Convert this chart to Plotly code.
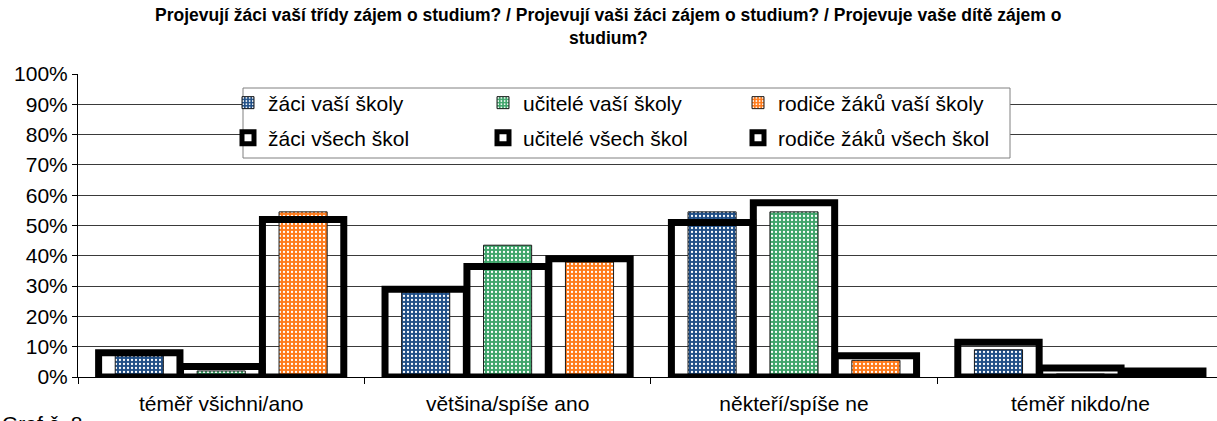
import plotly.graph_objects as go

categories = ["téměř všichni/ano", "většina/spíše ano", "někteří/spíše ne", "téměř nikdo/ne"]
ticks_y = [0, 10, 20, 30, 40, 50, 60, 70, 80, 90, 100]

zaci_vasi = [7, 28, 54.5, 9]
ucitele_vasi = [2, 43.5, 54.5, 1]
rodice_vasi = [54.5, 38, 5.5, 0]
zaci_vsech = [8, 29, 51, 11.5]
ucitele_vsech = [3.5, 36.5, 57.5, 3]
rodice_vsech = [52, 39, 7, 2]

names_vasi = ["žáci vaší školy", "učitelé vaší školy", "rodiče žáků vaší školy"]
names_vsech = ["žáci všech škol", "učitelé všech škol", "rodiče žáků všech škol"]
colors = ["#1F4E86", "#3EA46A", "#FF7A1A"]

FONT = "Liberation Sans, Arial, sans-serif"
W, H = 1217, 421
L, R, T, B = 78, 0, 74, 44
pw, ph = W - L - R, H - T - B

def px_x(x):
    return (x - L) / pw

def px_y(y):
    return (H - B - y) / ph

spacing = 0.286
wide = 0.284
narrow = 0.168

fig = go.Figure()
for k, (vals, name, col) in enumerate(zip([zaci_vasi, ucitele_vasi, rodice_vasi], names_vasi, colors)):
    c = (k - 1) * spacing
    fig.add_trace(go.Bar(
        x=categories, y=vals, name=name, width=narrow, offset=c - narrow / 2,
        marker=dict(color=col, line=dict(color="#1a1a1a", width=1),
                    pattern=dict(shape=".", fgcolor="white", bgcolor=col, size=4, solidity=0.25, fillmode="replace")),
        legend="legend", hoverinfo="skip"))
for k, (vals, name) in enumerate(zip([zaci_vsech, ucitele_vsech, rodice_vsech], names_vsech)):
    c = (k - 1) * spacing
    fig.add_trace(go.Bar(
        x=categories, y=vals, name=name, width=wide, offset=c - wide / 2,
        marker=dict(color="rgba(0,0,0,0)", line=dict(color="black", width=7)),
        legend="legend2", hoverinfo="skip"))

# legend frame
fig.add_shape(type="rect", xref="paper", yref="paper",
              x0=px_x(243), x1=px_x(1010), y0=px_y(158), y1=px_y(88),
              fillcolor="white", line=dict(color="#808080", width=1), layer="above")

legend_common = dict(orientation="h", entrywidth=210, entrywidthmode="pixels",
                     font=dict(family=FONT, size=21, color="black"),
                     bgcolor="rgba(0,0,0,0)", borderwidth=0, xanchor="left", yanchor="middle",
                     tracegroupgap=0, itemwidth=30)

fig.update_layout(
    width=W, height=H,
    margin=dict(l=L, r=R, t=T, b=B),
    paper_bgcolor="white", plot_bgcolor="white",
    barmode="overlay",
    font=dict(family=FONT, size=21, color="black"),
    legend=dict(x=px_x(228), y=px_y(103), **legend_common),
    legend2=dict(x=px_x(228), y=px_y(138), **legend_common),
    xaxis=dict(type="category", range=[-0.5, 3.477], showline=True, linecolor="black", linewidth=1,
               ticks="outside", tickson="boundaries", ticklen=6, tickcolor="black",
               showgrid=False, tickfont=dict(family=FONT, size=21), ticklabelstandoff=8),
    yaxis=dict(range=[0, 100], tickvals=ticks_y, ticktext=[f"{v}%" for v in ticks_y],
               showline=True, linecolor="black", linewidth=1, ticks="outside", ticklen=5,
               tickcolor="black", showgrid=True, gridcolor="#3a3a3a", gridwidth=1,
               zeroline=False, tickfont=dict(family=FONT, size=21)),
    showlegend=True,
)

fig.add_annotation(text="<b>Projevují žáci vaší třídy zájem o studium? / Projevují vaši žáci zájem o studium? / Projevuje vaše dítě zájem o</b>",
                   xref="paper", yref="paper", x=px_x(608), y=px_y(15), xanchor="center", yanchor="middle",
                   showarrow=False, font=dict(family=FONT, size=17.5, color="black"))
fig.add_annotation(text="<b>studium?</b>",
                   xref="paper", yref="paper", x=px_x(608), y=px_y(38), xanchor="center", yanchor="middle",
                   showarrow=False, font=dict(family=FONT, size=17.5, color="black"))
fig.add_annotation(text="Graf č. 8", xref="paper", yref="paper", x=px_x(0), y=px_y(410),
                   xanchor="left", yanchor="top", showarrow=False,
                   font=dict(family=FONT, size=21, color="black"))

fig.write_html("out.html", config={"displayModeBar": False},
               post_script="document.body.style.margin='0';document.body.style.padding='0';")
